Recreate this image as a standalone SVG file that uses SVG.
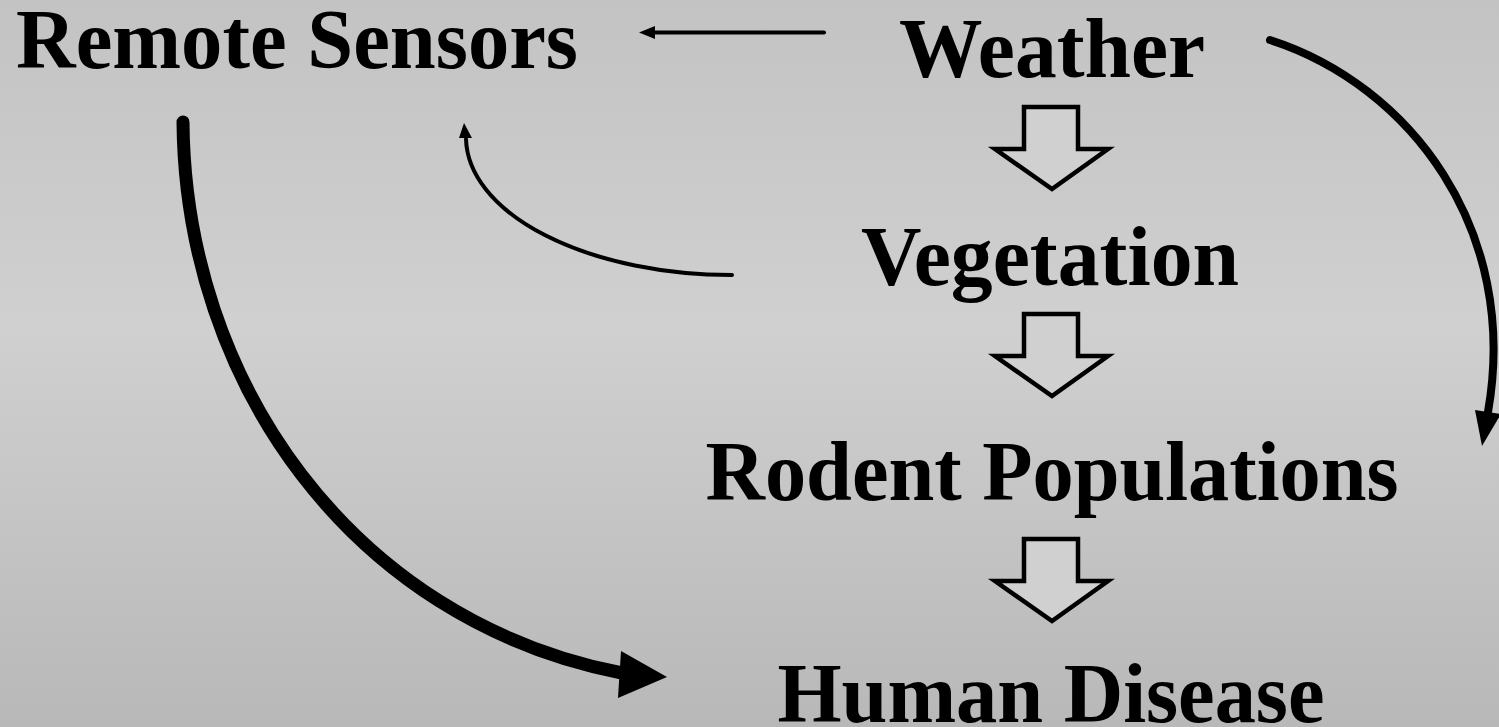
<svg xmlns="http://www.w3.org/2000/svg" width="1499" height="727" viewBox="0 0 1499 727">
  <defs>
    <linearGradient id="bg" x1="0" y1="0" x2="0" y2="1">
      <stop offset="0" stop-color="#c3c3c3"/>
      <stop offset="0.45" stop-color="#d0d0d0"/>
      <stop offset="1" stop-color="#b8b8b8"/>
    </linearGradient>
    <style>
      .lbl { font-family: "Liberation Serif", "Times New Roman", serif; font-weight: bold; font-size: 85px; fill: #000; text-anchor: middle; }
      .blk { fill: #d0d0d0; stroke: #000; stroke-width: 4.5; stroke-linejoin: miter; }
      .ln { fill: none; stroke: #000; stroke-linecap: round; }
      .hd { fill: #000; stroke: none; }
    </style>
  </defs>
  <rect x="0" y="0" width="1499" height="727" fill="url(#bg)"/>

  <g id="node-remote-sensors">
    <text class="lbl" x="297" y="68" textLength="562" lengthAdjust="spacingAndGlyphs">Remote Sensors</text>
  </g>
  <g id="node-weather">
    <text class="lbl" x="1052" y="77" textLength="306" lengthAdjust="spacingAndGlyphs">Weather</text>
  </g>
  <g id="node-vegetation">
    <text class="lbl" x="1050" y="285" textLength="378" lengthAdjust="spacingAndGlyphs">Vegetation</text>
  </g>
  <g id="node-rodent-populations">
    <text class="lbl" x="1052" y="500" textLength="693" lengthAdjust="spacingAndGlyphs">Rodent Populations</text>
  </g>
  <g id="node-human-disease">
    <text class="lbl" x="1051" y="722" textLength="547" lengthAdjust="spacingAndGlyphs">Human Disease</text>
  </g>

  <g id="connectors">
    <!-- block arrows -->
    <path class="blk" d="M1024,107 H1078 V149 H1108 L1052,189 L995,149 H1024 Z"/>
    <path class="blk" d="M1024,314 H1078 V356 H1108 L1052,396 L995,356 H1024 Z"/>
    <path class="blk" d="M1024,539 H1078 V581 H1108 L1052,621 L995,581 H1024 Z"/>

    <!-- Weather -> Remote Sensors -->
    <path class="ln" d="M824,32.5 H652" stroke-width="4" stroke-linecap="butt"/>
    <polygon class="hd" points="639,32.5 655,26 655,39"/>

    <!-- Vegetation -> Remote Sensors -->
    <path class="ln" d="M732,275 A266,138 0 0 1 466,139" stroke-width="4"/>
    <polygon class="hd" points="464,123 472,138 459,138"/>

    <!-- Weather -> Rodent Populations -->
    <path class="ln" d="M1270,40 C1410,85 1520,230 1488,412" stroke-width="8"/>
    <polygon class="hd" points="1482,446 1475,410 1501,414"/>

    <!-- Remote Sensors -> Human Disease -->
    <path class="ln" d="M183,122 C185,380 350,620 622,673" stroke-width="13"/>
    <polygon class="hd" points="621,651 667,677 618,698"/>
  </g>
</svg>
